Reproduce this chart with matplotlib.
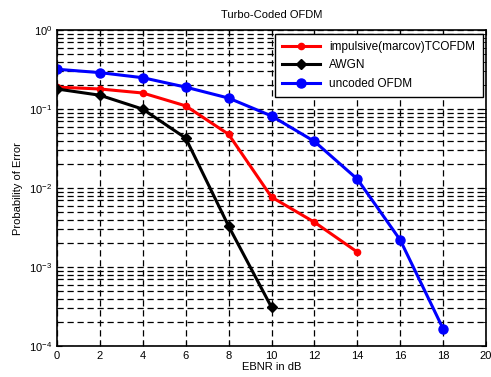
import numpy as np
import matplotlib
matplotlib.use('Agg')
import matplotlib.pyplot as plt
from matplotlib.ticker import LogLocator, NullFormatter

plt.rcParams['font.family'] = ['Liberation Sans', 'DejaVu Sans']

ebnr = [0, 2, 4, 6, 8, 10, 12, 14, 16, 18]
impulsive = [0.19, 0.18, 0.16, 0.11, 0.048, 0.0077, 0.0037, 0.00155]
awgn = [0.18, 0.15, 0.10, 0.043, 0.0033, 0.00031]
uncoded = [0.32, 0.29, 0.25, 0.19, 0.138, 0.082, 0.039, 0.013, 0.0022, 0.000165]

fig = plt.figure(figsize=(4.91, 3.77), dpi=100)
ax = fig.add_axes([0.116, 0.082, 0.874, 0.838])

ax.semilogy(ebnr[:len(impulsive)], impulsive, color='red', lw=2.2, marker='o', ms=4.5,
            label='impulsive(marcov)TCOFDM')
ax.semilogy(ebnr[:len(awgn)], awgn, color='black', lw=2.2, marker='D', ms=5.5,
            label='AWGN')
ax.semilogy(ebnr, uncoded, color='blue', lw=2.2, marker='o', ms=6.5,
            label='uncoded OFDM')

ax.set_xlim(0, 20)
ax.set_ylim(1e-4, 1)
ax.set_xticks(np.arange(0, 21, 2))
ax.yaxis.set_minor_locator(LogLocator(base=10, subs=np.arange(2, 10)))
ax.yaxis.set_minor_formatter(NullFormatter())
ax.grid(True, which='major', color='black', ls=(0, (5, 3)), lw=0.9)
ax.grid(True, which='minor', axis='y', color='black', ls=(0, (5, 3)), lw=0.9)
ax.tick_params(labelsize=8, direction='in', top=True, right=True, which='both')
for s in ax.spines.values():
    s.set_linewidth(1.2)

ax.set_xlabel('EBNR in dB', fontsize=8, labelpad=1)
ax.set_ylabel('Probability of Error', fontsize=8)
ax.set_title('Turbo-Coded OFDM', fontsize=8, pad=9)

leg = ax.legend(loc='upper right', fontsize=8.5, fancybox=False, framealpha=1,
                edgecolor='black', borderaxespad=0.3, handlelength=3.2,
                labelspacing=0.55, borderpad=0.6)
leg.get_frame().set_linewidth(1.0)

plt.savefig('out.png')
